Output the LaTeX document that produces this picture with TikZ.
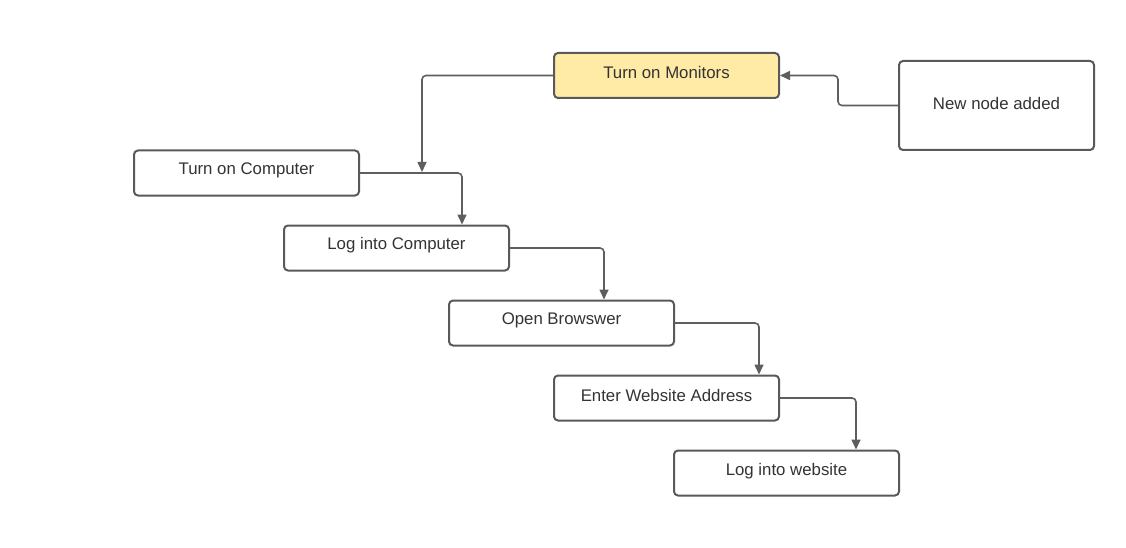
\documentclass[tikz,border=0pt]{standalone}
\usepackage{fontspec}
\setmainfont{Liberation Sans}
\usetikzlibrary{arrows.meta}
\definecolor{edge}{HTML}{5E5E5E}
\definecolor{frame}{HTML}{595959}
\definecolor{txt}{HTML}{333333}
\definecolor{yel}{HTML}{FFEBA6}
\tikzset{
  box/.style={draw=frame, line width=2pt, rounded corners=4pt, fill=white,
    minimum width=225pt, minimum height=45pt, inner sep=0pt,
    text=txt, font=\fontsize{16.8}{20}\selectfont},
  lbl/.style={text=txt, font=\fontsize{16.8}{20}\selectfont, inner sep=0pt},
  conn/.style={draw=edge, line width=1.6pt, rounded corners=4pt,
    -{Triangle[length=10pt,width=9pt]}}
}
\begin{document}
\begin{tikzpicture}[x=1pt,y=-1pt]
\useasboundingbox (0,0) rectangle (1126,548);
\node[box, fill=yel] (mon) at (666.5,75.5) {};
\node[box, minimum width=195pt, minimum height=89pt] (new) at (996.5,105.5) {};
\node[box] (comp) at (246.5,173) {};
\node[box] (log) at (396.5,248) {};
\node[box] (brow) at (561.5,323) {};
\node[box] (ent) at (666.5,398) {};
\node[box] (web) at (786.5,473) {};
\node[lbl] (tmon) at ([yshift=3pt]mon.center) {Turn on Monitors};
\node[lbl] (tnew) at ([yshift=2pt]new.center) {New node added};
\node[lbl] (tcomp) at ([yshift=3pt]comp.center) {Turn on Computer};
\node[lbl] (tlog) at ([yshift=3pt]log.center) {Log into Computer};
\node[lbl] (tbrow) at ([yshift=3pt]brow.center) {Open Browswer};
\node[lbl] (tent) at ([yshift=3pt]ent.center) {Enter Website Address};
\node[lbl] (tweb) at ([yshift=2pt]web.center) {Log into website};
\coordinate (c1) at (422,172);
\draw[conn] (mon.west) -| (c1);
\draw[conn] (comp.east) -| ([xshift=65.5pt]log.north);
\draw[conn] (log.east) -| ([xshift=42.5pt]brow.north);
\draw[conn] (brow.east) -| ([xshift=92.5pt]ent.north);
\draw[conn] (ent.east) -| ([xshift=69.5pt]web.north);
\draw[conn] (new.west) -- ++(-60,0) |- (mon.east);
\end{tikzpicture}
\end{document}
